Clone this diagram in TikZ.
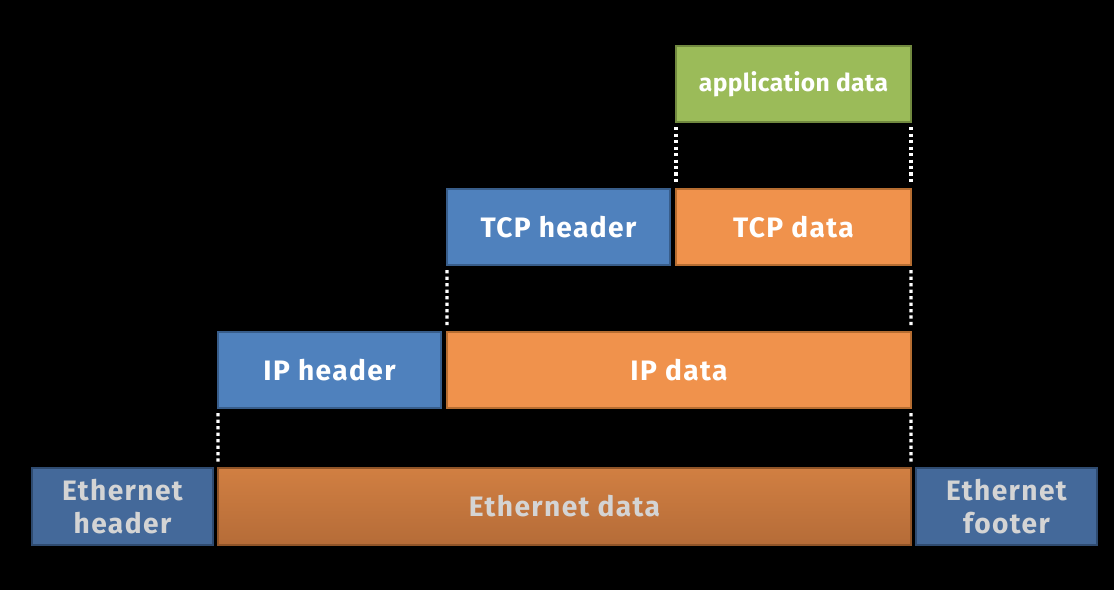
\documentclass[tikz,border=0pt]{standalone}
\usepackage{fontspec}
\setmainfont{Fira Sans}
\newfontfamily\layerfont[LetterSpace=5]{Fira Sans}
\newfontfamily\appfont[LetterSpace=1.5]{Fira Sans}
\definecolor{hdrblue}{HTML}{4F81BD}
\definecolor{hdrblueline}{HTML}{385D8A}
\definecolor{datorange}{HTML}{F0924C}
\definecolor{datorangeline}{HTML}{B66D31}
\definecolor{appgreen}{HTML}{9BBB59}
\definecolor{appgreenline}{HTML}{71893F}
\definecolor{ethblue}{HTML}{44699A}
\definecolor{ethblueline}{HTML}{2F4B70}
\definecolor{ethorangetop}{HTML}{D17F42}
\definecolor{ethorangebot}{HTML}{B56C38}
\definecolor{ethorangeline}{HTML}{8F5428}
\definecolor{ethtext}{HTML}{D4D4D4}
\tikzset{
  layer/.style={rectangle, inner sep=0pt, outer sep=0pt, line width=1.4pt,
    minimum height=1.9cm, align=center, text=white,
    font=\layerfont\fontsize{20}{24}\selectfont\bfseries},
  header/.style={layer, fill=hdrblue, draw=hdrblueline},
  payload/.style={layer, fill=datorange, draw=datorangeline},
  appbox/.style={layer, fill=appgreen, draw=appgreenline,
    font=\appfont\fontsize{17.5}{19}\selectfont\bfseries},
  ethhead/.style={layer, fill=ethblue, draw=ethblueline, text=ethtext,
    minimum height=1.925cm},
  ethbody/.style={layer, top color=ethorangetop, bottom color=ethorangebot,
    draw=ethorangeline, text=ethtext, minimum height=1.925cm},
  gap/.style={draw=white, line width=2.3pt, dash pattern=on 2.3pt off 2.3pt,
    shorten <=0.13cm, shorten >=0.13cm}
}
\begin{document}
\begin{tikzpicture}[x=0.025cm, y=-0.025cm]
  \fill[black] (0,0) rectangle (1114,590);
  \useasboundingbox (0,0) rectangle (1114,590);
  % application layer
  \node[appbox, minimum width=5.875cm] (app) at (793.5,84) {application data};
  % transport layer
  \node[header, minimum width=5.575cm] (tcph) at (558.5,227) {TCP header};
  \node[payload, minimum width=5.875cm] (tcpd) at (793.5,227) {TCP data};
  % network layer
  \node[header, minimum width=5.575cm] (iph) at (329.5,370) {IP header};
  \node[payload, minimum width=11.6cm] (ipd) at (679,370) {IP data};
  % link layer
  \node[ethhead, minimum width=4.525cm] (ethh) at (122.5,506.5) {Ethernet\\header};
  \node[ethbody, minimum width=17.325cm] (ethd) at (564.5,506.5) {Ethernet data};
  \node[ethhead, minimum width=4.525cm] (ethf) at (1006.5,506.5) {Ethernet\\footer};
  % encapsulation guides
  \draw[gap] (app.south west) -- (tcpd.north west);
  \draw[gap] (app.south east) -- (tcpd.north east);
  \draw[gap] (tcph.south west) -- (ipd.north west);
  \draw[gap] (tcpd.south east) -- (ipd.north east);
  \draw[gap] (iph.south west) -- (ethd.north west);
  \draw[gap] (ipd.south east) -- (ethd.north east);
\end{tikzpicture}
\end{document}
